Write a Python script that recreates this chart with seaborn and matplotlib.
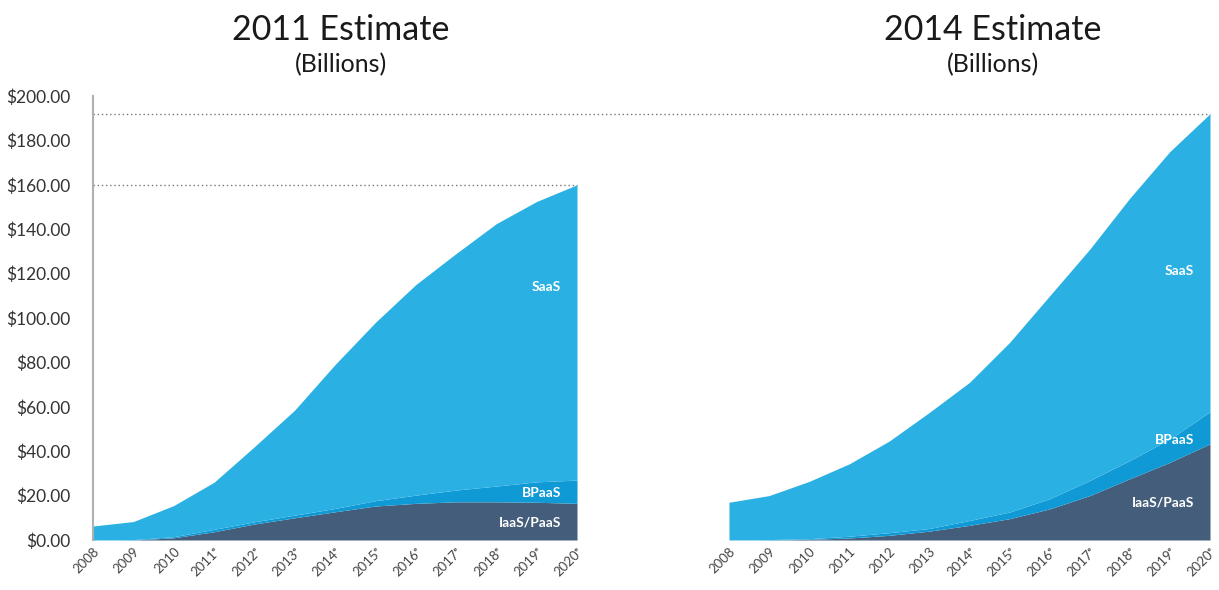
import matplotlib
matplotlib.use("Agg")
import matplotlib.pyplot as plt
import seaborn as sns

# values (billions, stacked segments)
years = list(range(2008, 2021))

iaas_2011 = [0, 0, 1.0, 3.7, 7.2, 10.0, 12.7, 15.3, 16.5, 17.2, 17.2, 17.0, 16.5]
bpaas_2011 = [0, 0.2, 0.5, 1.1, 1.0, 1.2, 1.5, 2.4, 3.7, 5.3, 7.1, 9.2, 10.5]
saas_2011 = [6.3, 8.1, 14.0, 21.2, 33.8, 47.3, 64.8, 80.3, 94.8, 106.5, 118.2, 126.3, 133.0]

iaas_2014 = [0, 0, 0.3, 0.9, 2.1, 4.0, 6.6, 9.6, 14.0, 20.0, 27.6, 35.0, 43.3]
bpaas_2014 = [0, 0.2, 0.3, 0.8, 1.2, 1.2, 2.2, 3.0, 4.6, 6.8, 8.2, 10.5, 14.5]
saas_2014 = [17.0, 19.8, 25.8, 32.6, 41.3, 52.3, 62.2, 76.4, 91.4, 104.2, 118.2, 129.5, 134.2]

labels_2011 = ["2008", "2009", "2010"] + [f"{y}ᵉ" for y in range(2011, 2021)]
labels_2014 = [str(y) for y in range(2008, 2014)] + [f"{y}ᵉ" for y in range(2014, 2021)]
yticks = list(range(0, 201, 20))

colors = ["#435d7a", "#0f9ad6", "#2ab0e2"]
layer_names = ["IaaS/PaaS", "BPaaS", "SaaS"]

sns.set_theme(style="white")
plt.rcParams["font.family"] = ["Lato", "DejaVu Sans"]

fig = plt.figure(figsize=(12.19, 5.90), dpi=100)
ax1 = fig.add_axes([93 / 1219, 50 / 590, 484 / 1219, 444 / 590])
ax2 = fig.add_axes([729 / 1219, 50 / 590, 481 / 1219, 444 / 590])

panels = [
    (ax1, [iaas_2011, bpaas_2011, saas_2011], labels_2011, [8, 21, 114]),
    (ax2, [iaas_2014, bpaas_2014, saas_2014], labels_2014, [17, 45, 121]),
]

for ax, layers, xlabels, label_y in panels:
    ax.patch.set_alpha(0)
    ax.stackplot(years, *layers, colors=colors, linewidth=0)
    ax.set_xlim(2008, 2020)
    ax.set_ylim(0, 200)
    ax.set_xticks(years)
    ax.set_xticklabels(xlabels, rotation=45, ha="right", rotation_mode="anchor",
                       fontsize=9.5, color="#444444")
    ax.tick_params(axis="x", length=0, pad=4)
    for name, yy in zip(layer_names, label_y):
        ax.text(2019.6, yy, name, ha="right", va="center", color="white",
                fontsize=10, fontweight="bold")
    sns.despine(ax=ax, left=True, bottom=True)

# left axis
ax1.spines["left"].set_visible(True)
ax1.spines["left"].set_color("#b0b0b0")
ax1.spines["left"].set_linewidth(1.5)
ax1.set_yticks(yticks)
ax1.set_yticklabels([f"${v:.2f}" for v in yticks], fontsize=12.5, color="#333333")
ax1.tick_params(axis="y", length=0, pad=16)
ax2.set_yticks([])

# dotted reference lines for the two 2020 totals
ax1.axhline(160, xmin=0, xmax=1, color="#777777", linestyle=(0, (1, 2)),
            linewidth=1, clip_on=False, zorder=0)
ax1.axhline(192, xmin=0, xmax=(1210 - 93) / 484, color="#777777",
            linestyle=(0, (1, 2)), linewidth=1, clip_on=False, zorder=0)

fig.text(341 / 1219, 1 - 30 / 590, "2011 Estimate", ha="center", va="center",
         fontsize=24.5, color="#1a1a1a")
fig.text(341 / 1219, 1 - 65 / 590, "(Billions)", ha="center", va="center",
         fontsize=18, color="#1a1a1a")
fig.text(993 / 1219, 1 - 30 / 590, "2014 Estimate", ha="center", va="center",
         fontsize=24.5, color="#1a1a1a")
fig.text(993 / 1219, 1 - 65 / 590, "(Billions)", ha="center", va="center",
         fontsize=18, color="#1a1a1a")

fig.savefig("out.png", dpi=100)
